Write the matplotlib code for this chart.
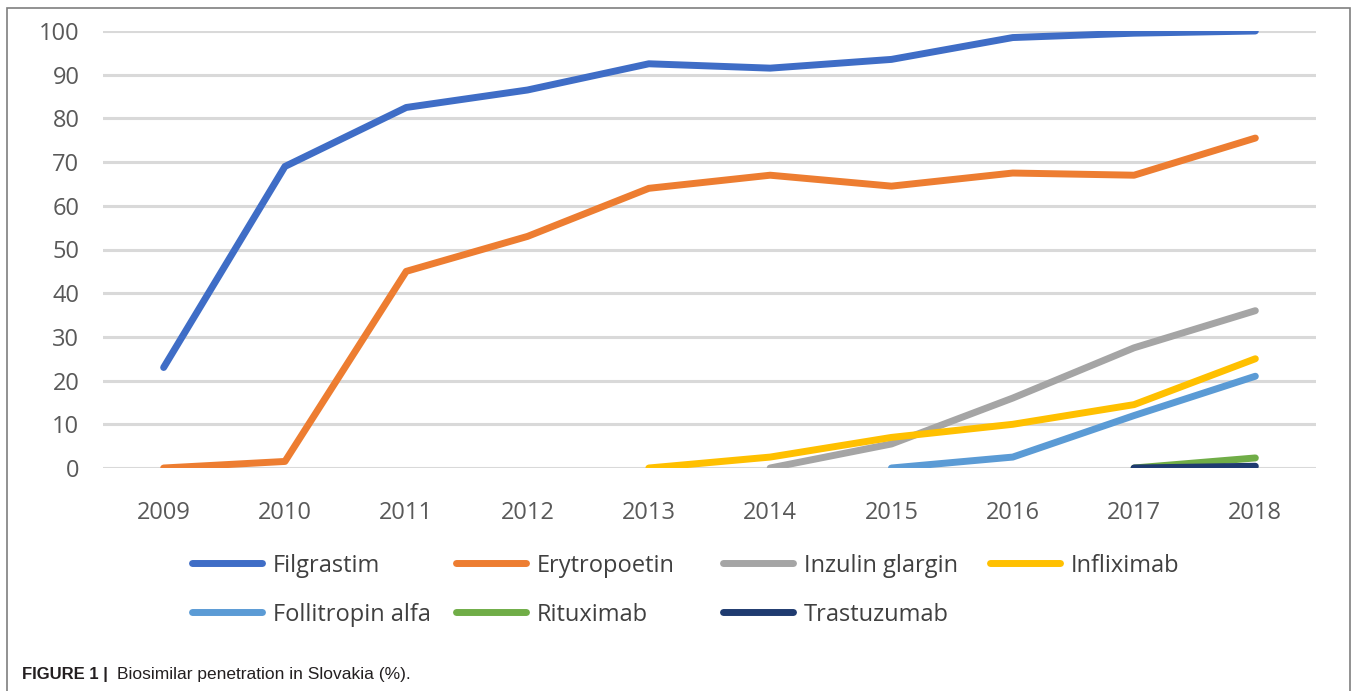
import matplotlib.pyplot as plt
from matplotlib.lines import Line2D
from matplotlib.patches import Rectangle

# values (% biosimilar penetration)
years = [2009, 2010, 2011, 2012, 2013, 2014, 2015, 2016, 2017, 2018]

filgrastim   = [23, 69, 82.5, 86.5, 92.5, 91.5, 93.5, 98.5, 99.5, 100]
erytropoetin = [0, 1.5, 45, 53, 64, 67, 64.5, 67.5, 67, 75.5]
inzulin      = [None, None, None, None, None, 0, 5.5, 16, 27.5, 36]
infliximab   = [None, None, None, None, 0, 2.5, 7, 10, 14.5, 25]
follitropin  = [None, None, None, None, None, None, 0, 2.5, 12, 21]
rituximab    = [None, None, None, None, None, None, None, None, 0, 2.3]
trastuzumab  = [None, None, None, None, None, None, None, None, 0, 0.4]

names = ["Filgrastim", "Erytropoetin", "Inzulin glargin", "Infliximab",
         "Follitropin alfa", "Rituximab", "Trastuzumab"]
series = [filgrastim, erytropoetin, inzulin, infliximab,
          follitropin, rituximab, trastuzumab]
colors = ["#3F6DC6", "#ED7D31", "#A5A5A5", "#FFC000",
          "#5B9BD5", "#70AD47", "#1F3B70"]

plt.rcParams["font.family"] = ["Open Sans", "DejaVu Sans"]

fig = plt.figure(figsize=(13.58, 6.91), dpi=100)
ax = fig.add_axes([103 / 1358, 1 - 468 / 691, (1316 - 103) / 1358, (468 - 31) / 691])

# gridlines behind the data
for v in range(0, 101, 10):
    ax.axhline(v, color="#D9D9D9", lw=2.2, zorder=1)

for name, vals, c in zip(names, series, colors):
    xs = [y for y, v in zip(years, vals) if v is not None]
    ys = [v for v in vals if v is not None]
    ax.plot(xs, ys, color=c, lw=5, solid_capstyle="round",
            solid_joinstyle="round", zorder=3)

ax.set_xlim(2008.5, 2018.5)
ax.set_ylim(0, 100)
ax.set_xticks(years)
ax.set_yticks(range(0, 101, 10))
ax.tick_params(axis="both", length=0, labelsize=17, labelcolor="#595959")
ax.tick_params(axis="y", pad=17)
ax.tick_params(axis="x", pad=24)
for s in ax.spines.values():
    s.set_visible(False)

# legend drawn by hand so the columns are evenly spaced like the original
col_x = [192, 456, 723, 990]
row_y = [563, 612]
for i, (name, c) in enumerate(zip(names, colors)):
    x0 = col_x[i % 4] / 1358
    y0 = 1 - row_y[i // 4] / 691
    fig.add_artist(Line2D([x0, x0 + 70 / 1358], [y0, y0], color=c, lw=5,
                          solid_capstyle="round", transform=fig.transFigure))
    fig.text(x0 + 81 / 1358, y0, name, fontsize=17, color="#404040",
             va="center_baseline", ha="left")

# outer frame and caption
fig.add_artist(Rectangle((7 / 1358, -0.01), (1350 - 7) / 1358, 1 - 8 / 691 + 0.01,
                         transform=fig.transFigure, fill=False,
                         edgecolor="#7F7F7F", lw=1.2))
fig.text(22 / 1358, 1 - 675 / 691, "FIGURE 1 |", fontsize=12, weight="bold",
         family="Liberation Sans", color="#231F20", va="center")
fig.text(117 / 1358, 1 - 675 / 691, "Biosimilar penetration in Slovakia (%).",
         fontsize=12.5, family="Liberation Sans", color="#231F20", va="center")

fig.savefig("out.png", dpi=100)
